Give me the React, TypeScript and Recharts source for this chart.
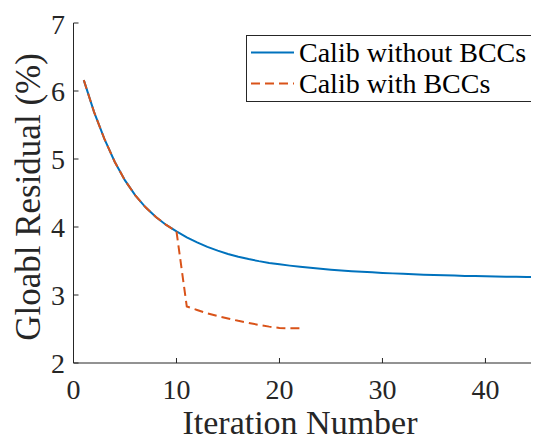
import { Legend, Line, LineChart, XAxis, YAxis } from 'recharts'

const iterations = [
  1, 2, 3, 4, 5, 6, 7, 8, 9, 10, 11, 12, 13, 14, 15, 16, 17, 18, 19, 20, 21, 22, 23,
  24, 25, 26, 27, 28, 29, 30, 31, 32, 33, 34, 35, 36, 37, 38, 39, 40, 41, 42, 43, 44,
  45, 46,
]

const withoutBCCs = [
  6.16, 5.69, 5.295, 4.96, 4.685, 4.465, 4.29, 4.148, 4.03, 3.935, 3.848, 3.773, 3.708,
  3.652, 3.604, 3.563, 3.528, 3.498, 3.472, 3.451, 3.432, 3.415, 3.399, 3.386, 3.373,
  3.362, 3.351, 3.342, 3.333, 3.325, 3.318, 3.311, 3.305, 3.299, 3.294, 3.289, 3.285,
  3.281, 3.278, 3.274, 3.272, 3.269, 3.267, 3.265, 3.263, 3.261,
]

const withBCCs = [
  6.16, 5.69, 5.295, 4.96, 4.685, 4.465, 4.29, 4.148, 4.03, 3.935, 2.83, 2.78, 2.73,
  2.69, 2.655, 2.62, 2.59, 2.56, 2.535, 2.515, 2.51, 2.51,
]

const xTicks = [0, 10, 20, 30, 40]
const yTicks = [2, 3, 4, 5, 6, 7]

const BLUE = '#0072BD'
const RED = '#D95319'
const AXIS = '#262626'
const FONT = "'Liberation Serif'"

const data = iterations.map((it, i) => ({
  iter: it,
  without: withoutBCCs[i],
  with: i < withBCCs.length ? withBCCs[i] : undefined,
}))

function LegendBox() {
  const rows = [
    { name: 'Calib without BCCs', color: BLUE, dash: undefined },
    { name: 'Calib with BCCs', color: RED, dash: '9 5' },
  ]
  return (
    <div
      style={{
        boxSizing: 'border-box',
        width: 289,
        height: 67,
        border: `1px solid ${AXIS}`,
        background: '#fff',
        paddingTop: 1,
        fontFamily: FONT,
        fontSize: 28,
        color: '#000',
      }}
    >
      {rows.map((r) => (
        <div key={r.name} style={{ display: 'flex', alignItems: 'center', height: 31 }}>
          <svg width={52} height={31} style={{ flex: 'none' }}>
            <line x1={4} x2={47} y1={15.5} y2={15.5} stroke={r.color} strokeWidth={2} strokeDasharray={r.dash} />
          </svg>
          <span style={{ whiteSpace: 'nowrap', lineHeight: '31px' }}>{r.name}</span>
        </div>
      ))}
    </div>
  )
}

export default function App() {
  return (
    <LineChart width={531} height={432} data={data} margin={{ top: 15, right: 0, bottom: 0, left: 0 }}>
      <XAxis
        dataKey="iter"
        type="number"
        domain={[0, 45.2]}
        allowDataOverflow
        ticks={xTicks}
        height={77}
        tickSize={-5}
        tickMargin={21}
        axisLine={{ stroke: AXIS }}
        tickLine={{ stroke: AXIS }}
        tick={{ fill: AXIS, fontSize: 28, fontFamily: FONT }}
        label={() => (
          <text x={292} y={426} textAnchor="middle" fill={AXIS} fontSize={34} style={{ fontFamily: FONT }}>
            Iteration Number
          </text>
        )}
      />
      <XAxis
        xAxisId="top"
        orientation="top"
        dataKey="iter"
        type="number"
        domain={[0, 45.2]}
        allowDataOverflow
        ticks={xTicks}
        height={0}
        tickSize={-5}
        tick={false}
        axisLine={{ stroke: AXIS }}
        tickLine={{ stroke: AXIS }}
      />
      <YAxis
        type="number"
        domain={[2, 7]}
        ticks={yTicks}
        width={65.5}
        tickSize={-5}
        tickMargin={13.5}
        axisLine={{ stroke: AXIS }}
        tickLine={{ stroke: AXIS }}
        tick={{ fill: AXIS, fontSize: 28, fontFamily: FONT }}
        label={() => (
          <text
            transform="translate(32,189) rotate(-90)"
            textAnchor="middle"
            fill={AXIS}
            fontSize={35}
            style={{ fontFamily: FONT }}
          >
            Gloabl Residual (%)
          </text>
        )}
      />
      <Line
        dataKey="without"
        stroke={BLUE}
        strokeWidth={2}
        dot={false}
        type="linear"
        isAnimationActive={false}
      />
      <Line
        dataKey="with"
        stroke={RED}
        strokeWidth={2}
        strokeDasharray="9 5"
        dot={false}
        type="linear"
        isAnimationActive={false}
      />
      <Legend
        layout="vertical"
        align="center"
        verticalAlign="middle"
        content={() => <LegendBox />}
        wrapperStyle={{ top: 27, left: 238, width: 289, height: 67 }}
      />
    </LineChart>
  )
}
